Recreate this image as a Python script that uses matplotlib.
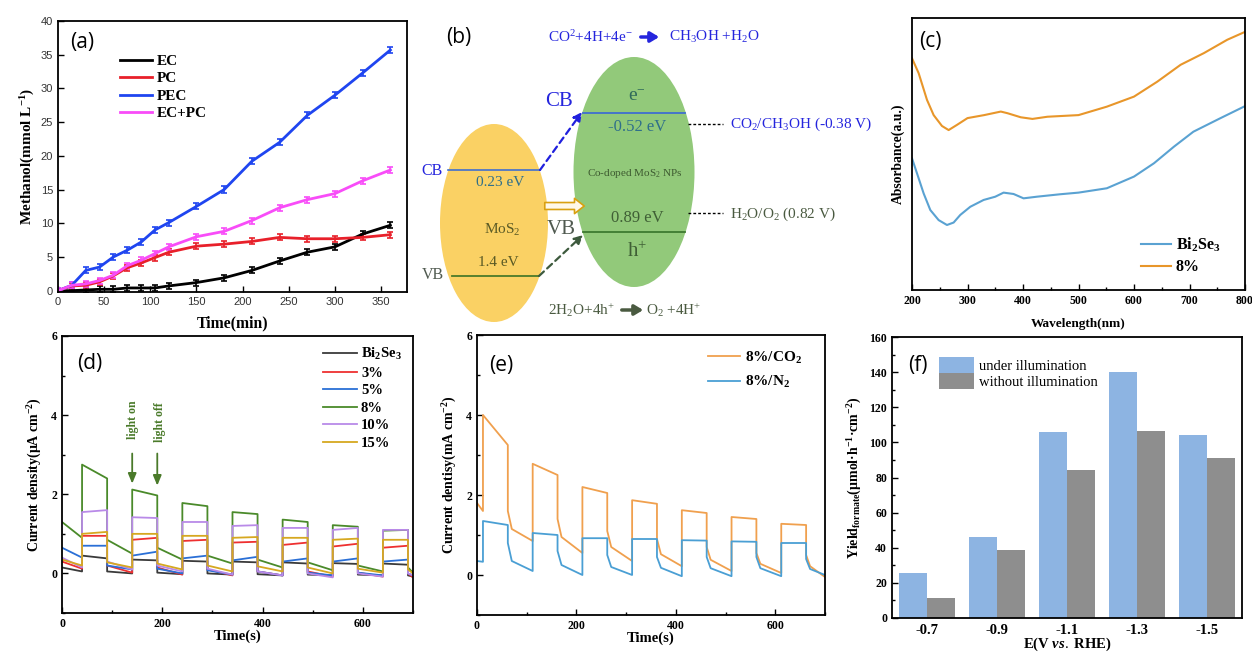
import numpy as np
import matplotlib
matplotlib.use('Agg')
import matplotlib.pyplot as plt
from matplotlib.patches import Ellipse, FancyArrowPatch
from matplotlib.ticker import MultipleLocator, NullLocator

plt.rcParams['font.family'] = ['Liberation Serif', 'DejaVu Serif']
plt.rcParams['mathtext.fontset'] = 'custom'
plt.rcParams['mathtext.rm'] = 'Liberation Serif'
plt.rcParams['mathtext.it'] = 'Liberation Serif:italic:bold'
plt.rcParams['mathtext.bf'] = 'Liberation Serif:bold'
plt.rcParams['mathtext.default'] = 'rm'

W, H = 1252, 654

# ---------------- data (a) ----------------
A_TIME = [0, 15, 30, 45, 60, 75, 90, 105, 120, 150, 180, 210, 240, 270, 300, 330, 360]
A_EC = [0, 0, 0.1, 0.2, 0.2, 0.4, 0.4, 0.4, 0.7, 1.2, 1.9, 3.0, 4.4, 5.7, 6.5, 8.4, 9.7]
A_PC = [0, 0.7, 0.8, 1.3, 2.2, 3.4, 4.1, 4.9, 5.7, 6.6, 6.9, 7.3, 7.9, 7.7, 7.7, 7.9, 8.3]
A_PEC = [0, 0.8, 3.0, 3.5, 5.0, 6.0, 7.2, 9.0, 10.1, 12.5, 15.0, 19.2, 22.0, 26.0, 29.0, 32.3, 35.7]
A_ECPC = [0, 0.8, 1.0, 1.5, 2.3, 3.7, 4.5, 5.5, 6.5, 8.0, 8.8, 10.4, 12.3, 13.5, 14.4, 16.3, 17.9]
A_ERR = 0.45
A_LABELS = ['EC', 'PC', 'PEC', 'EC+PC']

# ---------------- data (c) ----------------
C_WL = [200, 212, 227, 239, 254, 266, 281, 300, 330, 360, 372, 396, 417, 444, 500, 551, 600, 642, 684, 726, 768, 800]
C_8 = [85.2, 79.7, 69.9, 64.3, 60.3, 58.8, 60.7, 63.2, 64.3, 65.6, 65.0, 63.5, 62.9, 63.7, 64.3, 67.4, 71.1, 76.6, 82.8, 87.1, 92.0, 94.9]
C_WL_B = [200, 209, 221, 233, 248, 263, 275, 287, 305, 329, 350, 365, 383, 401, 425, 467, 500, 551, 600, 636, 672, 707, 755, 800]
C_BI = [48.4, 42.9, 35.5, 29.4, 25.7, 23.9, 24.8, 27.6, 30.6, 33.1, 34.3, 35.8, 35.3, 33.7, 34.3, 35.2, 35.8, 37.4, 41.7, 46.6, 52.7, 58.2, 63.1, 67.6]
C_LABELS = ['Bi$_\\mathbf{2}$Se$_\\mathbf{3}$', '8%']

# ---------------- data (d) ----------------
D_ON = [40, 140, 240, 340, 440, 540, 640]
D_LEN = 50
D_END = 700
D_LABELS = ['Bi$_\\mathbf{2}$Se$_\\mathbf{3}$', '3%', '5%', '8%', '10%', '15%']
D_PRE = [[0.15, 0.05], [0.3, 0.12], [0.65, 0.4], [1.3, 0.9], [0.4, 0.15], [0.35, 0.2]]
D_ON_S = [[0.45, 0.35, 0.32, 0.30, 0.28, 0.26, 0.25],
          [0.95, 0.85, 0.82, 0.78, 0.72, 0.68, 0.65],
          [0.70, 0.45, 0.38, 0.33, 0.30, 0.30, 0.30],
          [2.75, 2.12, 1.78, 1.55, 1.36, 1.22, 1.08],
          [1.55, 1.42, 1.30, 1.20, 1.15, 1.10, 1.10],
          [1.00, 1.00, 0.95, 0.90, 0.90, 0.85, 0.85]]
D_ON_E = [[0.38, 0.33, 0.30, 0.28, 0.25, 0.24, 0.22],
          [0.95, 0.90, 0.85, 0.80, 0.78, 0.75, 0.70],
          [0.70, 0.55, 0.45, 0.42, 0.38, 0.38, 0.35],
          [2.40, 1.97, 1.70, 1.50, 1.30, 1.18, 1.10],
          [1.60, 1.40, 1.30, 1.22, 1.15, 1.15, 1.10],
          [1.05, 1.00, 0.95, 0.92, 0.90, 0.88, 0.85]]
D_OFF_S = [[0.05, 0.02, 0.0, -0.02, -0.03, -0.03, -0.05],
           [0.20, 0.15, 0.10, 0.05, 0.05, 0.02, 0.0],
           [0.20, 0.12, 0.08, 0.05, 0.02, 0.02, 0.0],
           [0.85, 0.65, 0.45, 0.35, 0.28, 0.20, 0.15],
           [0.30, 0.20, 0.12, 0.05, 0.0, 0.0, 0.0],
           [0.28, 0.25, 0.20, 0.18, 0.15, 0.12, 0.10]]
D_OFF_E = [[0.0, -0.02, -0.03, -0.05, -0.05, -0.05, -0.08],
           [0.02, -0.03, -0.05, -0.05, -0.08, -0.08, -0.10],
           [0.10, 0.0, -0.03, -0.05, -0.05, -0.05, -0.05],
           [0.50, 0.35, 0.25, 0.15, 0.08, 0.05, 0.02],
           [0.10, 0.05, -0.03, -0.05, -0.10, -0.08, -0.05],
           [0.15, 0.10, 0.05, 0.05, 0.0, 0.02, 0.0]]

# ---------------- data (e) ----------------
E_ON = [12, 112, 212, 312, 412, 512, 612]
E_LEN = 50
E_END = 700
E_LABELS = ['8%/CO$_\\mathbf{2}$', '8%/N$_\\mathbf{2}$']
E_PRE = [[1.8, 1.6], [0.35, 0.33]]
E_ON_S = [[4.0, 2.78, 2.2, 1.87, 1.62, 1.45, 1.28],
          [1.35, 1.05, 0.92, 0.90, 0.87, 0.84, 0.80]]
E_ON_E = [[3.25, 2.5, 2.05, 1.78, 1.55, 1.4, 1.25],
          [1.25, 1.0, 0.92, 0.90, 0.86, 0.83, 0.80]]
E_OFF_S = [[1.6, 1.4, 1.1, 0.9, 0.7, 0.55, 0.5],
           [0.8, 0.6, 0.5, 0.45, 0.45, 0.45, 0.4]]
E_OFF_K = [[1.15, 0.95, 0.7, 0.52, 0.38, 0.28, 0.22],
           [0.35, 0.25, 0.2, 0.18, 0.17, 0.17, 0.15]]
E_OFF_E = [[0.85, 0.55, 0.35, 0.22, 0.10, 0.05, -0.05],
           [0.10, 0.0, 0.0, -0.03, -0.03, -0.03, 0.0]]

# ---------------- data (f) ----------------
F_CATS = ['-0.7', '-0.9', '-1.1', '-1.3', '-1.5']
F_LIGHT = [25.5, 46.2, 105.8, 139.8, 104.3]
F_DARK = [11.4, 39.0, 84.3, 106.7, 91.3]
F_LABELS = ['under illumination', 'without illumination']


def rect(l, t, r, b):
    return [l / W, 1 - b / H, (r - l) / W, (b - t) / H]


def chop(pre, on_s, on_e, off_s, off_e, t_on, length, t_end, off_k=None, knee=8):
    t = [0, t_on[0]]
    y = [pre[0], pre[1]]
    for i, t0 in enumerate(t_on):
        t1 = t0 + length
        t2 = t_on[i + 1] if i + 1 < len(t_on) else t_end
        t += [t0, t1, t1]
        y += [on_s[i], on_e[i], off_s[i]]
        if off_k is not None:
            t.append(t1 + knee)
            y.append(off_k[i])
        t.append(t2)
        y.append(off_e[i])
    return t, y


def style_box(ax, lw=1.3):
    for s in ax.spines.values():
        s.set_linewidth(lw)
    ax.tick_params(which='both', direction='in', top=False, right=False)
    ax.tick_params(which='major', length=4, width=1)
    ax.tick_params(which='minor', length=2.5, width=1)


BOLD = dict(fontweight='bold')
PANEL = dict(family=['Open Sans', 'DejaVu Sans'], fontsize=15)

fig = plt.figure(figsize=(W / 100, H / 100), dpi=100)

# ================= (a) =================
axa = fig.add_axes(rect(58, 21, 407, 292))
cols_a = ['black', '#e8202a', '#1f45f0', '#f84cf8']
for vals, col, lab in zip([A_EC, A_PC, A_PEC, A_ECPC], cols_a, A_LABELS):
    axa.errorbar(A_TIME, vals, yerr=A_ERR, color=col, lw=2, elinewidth=1.2,
                 capsize=2.5, capthick=1.2)
    axa.plot([], [], color=col, lw=2, label=lab)
axa.set_xlim(0, 378)
axa.set_ylim(-0.2, 40)
axa.xaxis.set_major_locator(MultipleLocator(50))
axa.yaxis.set_major_locator(MultipleLocator(5))
style_box(axa)
for lab in axa.get_xticklabels() + axa.get_yticklabels():
    lab.set_family(['Liberation Sans', 'DejaVu Sans'])
    lab.set_fontsize(8)
    lab.set_color('#333333')
axa.set_xlabel('Time(min)', fontsize=11.3, labelpad=6, **BOLD)
axa.set_ylabel('Methanol(mmol L$^{\\mathbf{-1}}$)', fontsize=11, labelpad=3, **BOLD)
axa.legend(loc='upper left', bbox_to_anchor=(0.16, 0.9), frameon=False,
           prop=dict(weight='bold', size=11), handlelength=2.1, handletextpad=0.3,
           labelspacing=0.25, borderaxespad=0)
axa.text(0.068, 0.92, '(a)', transform=axa.transAxes, ha='center', va='center', **PANEL)

# ================= (b) =================
axb = fig.add_axes(rect(420, 0, 860, 330))
axb.set_xlim(420, 860)
axb.set_ylim(330, 0)
axb.axis('off')
axb.add_patch(Ellipse((494, 223), 108, 198, facecolor='#fad164', edgecolor='none'))
axb.add_patch(Ellipse((634, 172), 121, 230, facecolor='#92c97a', edgecolor='none'))
blue_t = '#2525dd'
teal_t = '#2f6f8a'
dgreen = '#3f5f35'
axb.text(459, 37, '(b)', ha='center', va='center', **PANEL)
axb.text(548, 37, 'CO$^2$+4H+4e$^{-}$', color=blue_t, fontsize=11, ha='left', va='center')
axb.annotate('', xy=(662, 37), xytext=(638, 37),
             arrowprops=dict(arrowstyle='-|>,head_length=0.5,head_width=0.3', color=blue_t, lw=2.5))
axb.text(669, 37, 'CH$_3$OH +H$_2$O', color=blue_t, fontsize=11, ha='left', va='center')
axb.text(545, 102, 'CB', color=blue_t, fontsize=15, ha='left', va='center')
axb.text(637, 96, 'e$^{-}$', color='#2f6a5a', fontsize=14, ha='center', va='center')
axb.plot([583, 685], [113, 113], color='#3f6fd0', lw=1.3)
axb.text(637, 127, '-0.52 eV', color=teal_t, fontsize=12, ha='center', va='center')
axb.plot([688, 723], [124, 124], color='black', lw=1, ls=(0, (2, 1.5)))
axb.text(730, 124, 'CO$_2$/CH$_3$OH (-0.38 V)', color=blue_t, fontsize=11, ha='left', va='center')
axb.text(421, 171, 'CB', color=blue_t, fontsize=11.5, ha='left', va='center')
axb.plot([448, 540], [170, 170], color='#3f6fd0', lw=1.2)
axb.text(500, 183, '0.23 eV', color=teal_t, fontsize=11, ha='center', va='center')
axb.annotate('', xy=(582, 112), xytext=(540, 170),
             arrowprops=dict(arrowstyle='-|>,head_length=0.5,head_width=0.25', color='#2020dd',
                             lw=1.6, ls=(0, (3, 2)), shrinkA=0, shrinkB=0))
axb.text(635, 173, 'Co-doped MoS$_2$ NPs', color='#3d5a30', fontsize=8, ha='center', va='center')
axb.add_patch(FancyArrowPatch((542, 206), (587, 206),
                              arrowstyle='simple,head_length=7,head_width=11,tail_width=5',
                              facecolor='#fff8e8', edgecolor='#d9a010', lw=1.2, mutation_scale=1))
axb.text(502, 230, 'MoS$_2$', color='#5a5a25', fontsize=11, ha='center', va='center')
axb.text(547, 230, 'VB', color='#505a50', fontsize=15, ha='left', va='center')
axb.text(637, 218, '0.89 eV', color=dgreen, fontsize=12, ha='center', va='center')
axb.plot([688, 723], [213, 213], color='black', lw=1, ls=(0, (2, 1.5)))
axb.text(730, 214, 'H$_2$O/O$_2$ (0.82 V)', color='#4a5a40', fontsize=11, ha='left', va='center')
axb.plot([583, 685], [232, 232], color='#3d7a30', lw=1.3)
axb.text(637, 252, 'h$^{+}$', color=dgreen, fontsize=15, ha='center', va='center')
axb.text(498, 263, '1.4 eV', color='#5a5a25', fontsize=11, ha='center', va='center')
axb.text(422, 275, 'VB', color='#505a50', fontsize=11.5, ha='left', va='center')
axb.plot([452, 538], [276, 276], color='#4a7a2a', lw=1.3)
axb.annotate('', xy=(583, 235), xytext=(539, 276),
             arrowprops=dict(arrowstyle='-|>,head_length=0.5,head_width=0.25', color='#3d5a3d',
                             lw=1.6, ls=(0, (3, 2)), shrinkA=0, shrinkB=0))
axb.text(548, 310, '2H$_2$O+4h$^{+}$', color='#4a5a40', fontsize=11, ha='left', va='center')
axb.annotate('', xy=(646, 310), xytext=(619, 310),
             arrowprops=dict(arrowstyle='-|>,head_length=0.5,head_width=0.3', color='#4a5a40', lw=2.5))
axb.text(646, 310, 'O$_2$ +4H$^{+}$', color='#4a5a40', fontsize=11, ha='left', va='center')

# ================= (c) =================
axc = fig.add_axes(rect(912, 18, 1245, 290))
axc.plot(C_WL_B, C_BI, color='#5aa2d2', lw=1.5, label=C_LABELS[0])
axc.plot(C_WL, C_8, color='#e8962a', lw=1.5, label=C_LABELS[1])
axc.set_xlim(200, 800)
axc.set_ylim(0, 100)
axc.xaxis.set_major_locator(MultipleLocator(100))
axc.xaxis.set_minor_locator(MultipleLocator(50))
axc.yaxis.set_major_locator(NullLocator())
style_box(axc)
for lab in axc.get_xticklabels():
    lab.set_fontweight('bold')
    lab.set_fontsize(8.5)
axc.set_xlabel('Wavelength(nm)', fontsize=9.5, labelpad=8, **BOLD)
axc.set_ylabel('Absorbance(a.u.)', fontsize=9.8, labelpad=5, **BOLD)
axc.legend(loc='lower right', bbox_to_anchor=(0.945, 0.03), frameon=False,
           prop=dict(weight='bold', size=11.5), handlelength=1.9, handletextpad=0.3,
           labelspacing=0.35, borderaxespad=0)
axc.text(0.055, 0.915, '(c)', transform=axc.transAxes, ha='center', va='center', **PANEL)

# ================= (d) =================
axd = fig.add_axes(rect(62, 336, 413, 613))
cols_d = ['#3a3a3a', '#ee3030', '#2a6fd6', '#4a8a2a', '#b98ae8', '#d6a820']
for i in range(6):
    t, y = chop(D_PRE[i], D_ON_S[i], D_ON_E[i], D_OFF_S[i], D_OFF_E[i], D_ON, D_LEN, D_END)
    axd.plot(t, y, color=cols_d[i], lw=1.3, label=D_LABELS[i])
axd.set_xlim(0, 700)
axd.set_ylim(-1, 6)
axd.xaxis.set_major_locator(MultipleLocator(200))
axd.xaxis.set_minor_locator(MultipleLocator(100))
axd.yaxis.set_major_locator(MultipleLocator(2))
axd.yaxis.set_minor_locator(MultipleLocator(1))
style_box(axd)
for lab in axd.get_xticklabels() + axd.get_yticklabels():
    lab.set_fontweight('bold')
    lab.set_fontsize(8.5)
axd.set_xlabel('Time(s)', fontsize=10.5, labelpad=0, **BOLD)
axd.set_ylabel('Current density(μA cm$^{\\mathbf{-2}}$)', fontsize=10, labelpad=5, **BOLD)
axd.legend(loc='upper right', bbox_to_anchor=(0.985, 0.985), frameon=False,
           prop=dict(weight='bold', size=10.5), handlelength=2.3, handletextpad=0.3,
           labelspacing=0.3, borderaxespad=0)
axd.text(0.08, 0.9, '(d)', transform=axd.transAxes, ha='center', va='center', **PANEL)
lg = '#4a7a2a'
axd.annotate('', xy=(D_ON[1], 2.2), xytext=(D_ON[1], 3.1),
             arrowprops=dict(arrowstyle='-|>,head_length=0.6,head_width=0.25', color=lg, lw=1.3))
axd.annotate('', xy=(D_ON[1] + D_LEN, 2.15), xytext=(D_ON[1] + D_LEN, 3.1),
             arrowprops=dict(arrowstyle='-|>,head_length=0.6,head_width=0.25', color=lg, lw=1.3))
axd.text(D_ON[1] + 2, 3.88, 'light on', rotation=90, color=lg, fontsize=8.5, ha='center', va='center', **BOLD)
axd.text(D_ON[1] + D_LEN + 6, 3.83, 'light off', rotation=90, color=lg, fontsize=8.5, ha='center', va='center', **BOLD)

# ================= (e) =================
axe = fig.add_axes(rect(477, 335, 825, 615))
cols_e = ['#f0a04e', '#4a9fd4']
for i in range(2):
    t, y = chop(E_PRE[i], E_ON_S[i], E_ON_E[i], E_OFF_S[i], E_OFF_E[i], E_ON, E_LEN, E_END,
                off_k=E_OFF_K[i])
    axe.plot(t, y, color=cols_e[i], lw=1.3, label=E_LABELS[i])
axe.set_xlim(0, 700)
axe.set_ylim(-1, 6)
axe.xaxis.set_major_locator(MultipleLocator(200))
axe.xaxis.set_minor_locator(MultipleLocator(100))
axe.yaxis.set_major_locator(MultipleLocator(2))
axe.yaxis.set_minor_locator(MultipleLocator(1))
style_box(axe)
for lab in axe.get_xticklabels() + axe.get_yticklabels():
    lab.set_fontweight('bold')
    lab.set_fontsize(8.5)
axe.set_xlabel('Time(s)', fontsize=10.5, labelpad=0, **BOLD)
axe.set_ylabel('Current dentisy(mA cm$^{\\mathbf{-2}}$)', fontsize=10, labelpad=5, **BOLD)
axe.legend(loc='upper right', bbox_to_anchor=(0.95, 0.97), frameon=False,
           prop=dict(weight='bold', size=11), handlelength=2.1, handletextpad=0.3,
           labelspacing=0.55, borderaxespad=0)
axe.text(0.07, 0.89, '(e)', transform=axe.transAxes, ha='center', va='center', **PANEL)

# ================= (f) =================
axf = fig.add_axes(rect(892, 337, 1242, 618))
xf = np.arange(len(F_CATS))
axf.bar(xf - 0.2, F_LIGHT, width=0.4, color='#8db4e2', label=F_LABELS[0])
axf.bar(xf + 0.2, F_DARK, width=0.4, color='#8e8e8e', label=F_LABELS[1])
axf.set_xlim(-0.5, 4.5)
axf.set_ylim(0, 160)
axf.set_xticks(xf)
axf.set_xticklabels(F_CATS)
axf.yaxis.set_major_locator(MultipleLocator(20))
axf.yaxis.set_minor_locator(MultipleLocator(10))
style_box(axf)
axf.tick_params(axis='x', length=0, pad=4)
for lab in axf.get_xticklabels():
    lab.set_fontweight('bold')
    lab.set_fontsize(10.5)
for lab in axf.get_yticklabels():
    lab.set_fontweight('bold')
    lab.set_fontsize(8.5)
axf.set_xlabel('E(V $\\mathit{vs.}$ RHE)', fontsize=10.5, labelpad=-1, **BOLD)
axf.set_ylabel('Yield$_{\\mathbf{formate}}$(μmol·h$^{\\mathbf{-1}}$·cm$^{\\mathbf{-2}}$)',
               fontsize=10, labelpad=4, **BOLD)
axf.legend(loc='upper left', bbox_to_anchor=(0.134, 0.93), frameon=False,
           prop=dict(size=10.5), handlelength=2.4, handleheight=1.3, handletextpad=0.35,
           labelspacing=0.05, borderaxespad=0, borderpad=0)
axf.text(0.075, 0.9, '(f)', transform=axf.transAxes, ha='center', va='center', **PANEL)

fig.savefig('out.png', dpi=100)
